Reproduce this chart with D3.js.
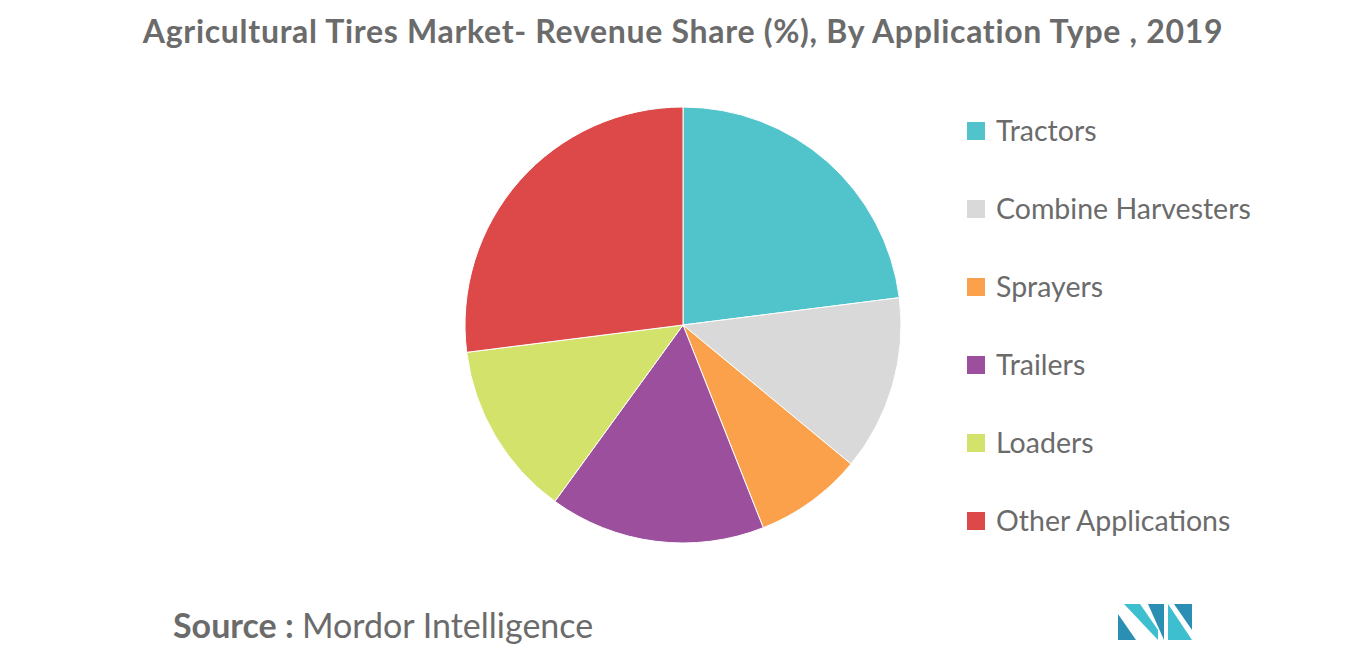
<!DOCTYPE html>
<html><head><meta charset="utf-8">
<script src="https://cdn.jsdelivr.net/npm/d3@7"></script>
<style>body{margin:0;background:#fff;font-family:Lato,"Open Sans",sans-serif}</style>
</head><body><div id="chart"></div>
<script>
const categories = ["Tractors","Combine Harvesters","Sprayers","Trailers","Loaders","Other Applications"];
const shares = [23,13,8,16,13,27];
const colors = ["#51c3ca","#d9d9d9","#fba14b","#9b4f9d","#d3e26a","#dd4848"];

const W = 1366, H = 655;
const svg = d3.select("#chart").append("svg").attr("width", W).attr("height", H);

svg.append("text").attr("x", 683).attr("y", 43).attr("text-anchor", "middle")
  .style("font-size", "32px").style("font-weight", "bold").style("letter-spacing", "0.7px")
  .attr("fill", "#6b6b6b")
  .text("Agricultural Tires Market- Revenue Share (%), By Application Type , 2019");

const pie = d3.pie().sort(null).value(d => d)(shares);
const arc = d3.arc().innerRadius(0).outerRadius(218);
svg.append("g").attr("transform", "translate(683,325)")
  .selectAll("path").data(pie).enter().append("path")
  .attr("d", arc).attr("fill", (d, i) => colors[i])
  .attr("stroke", "#fff").attr("stroke-width", 1);

const leg = svg.append("g").attr("transform", "translate(967,131)");
const item = leg.selectAll("g").data(categories).enter().append("g")
  .attr("transform", (d, i) => `translate(0,${i * 78})`);
item.append("rect").attr("x", 0).attr("y", -9).attr("width", 18).attr("height", 18)
  .attr("fill", (d, i) => colors[i]);
item.append("text").attr("x", 29).attr("y", 10).style("font-size", "28.5px")
  .attr("fill", "#6b6b6b").text(d => d);

const src = svg.append("text").attr("x", 173).attr("y", 638).style("font-size", "34px").attr("fill", "#6b6b6b");
src.append("tspan").style("font-weight", "bold").text("Source : ");
src.append("tspan").text("Mordor Intelligence");

// logo
const logo = svg.append("g").attr("transform", "translate(1118,604)");
logo.append("path").attr("d", "M0,36 L0,10 L18,36 Z").attr("fill", "#2a8fb3");
logo.append("path").attr("d", "M6,0 L22,0 L40,26 L40,36 Z").attr("fill", "#3dbfcf");
logo.append("path").attr("d", "M30,0 L46,0 L46,36 Z").attr("fill", "#2a8fb3");
logo.append("path").attr("d", "M50,0 L74,36 L50,36 Z").attr("fill", "#3dbfcf");
logo.append("path").attr("d", "M56,0 L74,0 L74,26 Z").attr("fill", "#2a8fb3");
</script></body></html>
